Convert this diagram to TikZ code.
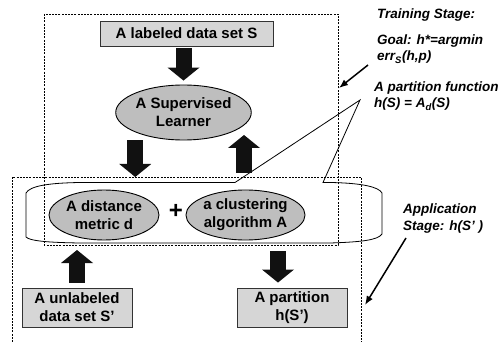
\documentclass[tikz,border=0pt]{standalone}
\usepackage{fontspec}
\setmainfont{Liberation Sans}
\usetikzlibrary{arrows.meta,shapes.geometric}
\definecolor{ellfill}{HTML}{BEBEBE}
\definecolor{boxfill}{HTML}{D6D6D6}
\definecolor{ink}{HTML}{111111}
\tikzset{
  boxnode/.style={draw=black!80, line width=0.9pt, fill=boxfill, inner sep=0pt, align=center,
    font=\bfseries\fontsize{15}{18}\selectfont},
  ellnode/.style={ellipse, draw=black, line width=0.9pt, fill=ellfill, inner sep=0pt, align=center,
    font=\bfseries\fontsize{15}{18}\selectfont},
  note/.style={inner sep=0pt, anchor=base west, font=\bfseries\itshape\fontsize{13.5}{16}\selectfont},
  barrow/.style={draw=ink, line width=16pt, -{Triangle[width=32pt,length=13pt,line width=0pt]}},
  thinarrow/.style={draw=black, line width=1.5pt, -{Latex[length=9pt,width=7pt]}},
  dashbox/.style={draw=black, line width=0.8pt, dash pattern=on 2pt off 1.2pt},
  callout/.style={draw=black, line width=0.8pt, line join=miter}
}
\begin{document}
\begin{tikzpicture}[x=1pt,y=-1pt]
\useasboundingbox (0,0) rectangle (501,342);
% named frame corners
\coordinate (trNW) at (44,14);
\coordinate (trSE) at (338,245);
\coordinate (appNW) at (12,177);
\coordinate (appNE) at (361,177);
\coordinate (ctip) at (360,100);
% callout shape
\draw[callout] (26,193) .. controls (30,186) and (48,183) .. (80,182.5) -- (235,182.5) -- (ctip) -- (323,182.5) -- (330,182.5)
  .. controls (362,183) and (379,187) .. (382,193) -- (382,234) .. controls (378,240) and (362,242) .. (330,243)
  -- (80,243) .. controls (48,242.5) and (30,241) .. (26,237) -- cycle;
% dashed stage frames
\draw[dashbox] (trNW) rectangle (trSE);
\draw[dashbox] (appNW |- 0,342) -- (appNW) -- (appNE) -- (appNE |- 0,342);
% nodes
\node[boxnode, minimum width=173pt, minimum height=25pt] (lab) at (186.5,33.5) {A labeled data set S};
\node[ellnode, minimum width=133pt, minimum height=55pt] (sup) at (183.5,112.5) {A Supervised\\Learner};
\node[ellnode, minimum width=110pt, minimum height=50pt] (dist) at (104,215) {A distance\\metric d};
\node[inner sep=0pt, font=\bfseries\fontsize{24}{24}\selectfont] (plus) at (176,211) {+};
\node[ellnode, minimum width=119pt, minimum height=50pt] (clus) at (245.5,215) {a clustering\\algorithm A};
\node[boxnode, minimum width=110pt, minimum height=39pt] (unl) at (77,307.5) {A unlabeled\\data set S’};
\node[boxnode, minimum width=110pt, minimum height=39pt] (part) at (292,307.5) {A partition\\h(S’)};
% notes
\node[note] (train) at (377,19) {Training Stage:};
\node[note] (goal) at (377,45) {Goal: h*=argmin};
\node[note] (err) at (377,61) {err\textsubscript{S}(h,p)};
\node[note] (pf) at (374,92) {A partition function};
\node[note] (pfh) at (374,108) {h(S) = A\textsubscript{d}(S)};
\node[note] (app) at (403,213) {Application};
\node[note] (appst) at (403,230) {Stage: h(S’ )};
% block arrows
\draw[barrow] ([yshift=-2pt]sup.north |- lab.south) -- ([yshift=4pt]sup.north);
\draw[barrow] (sup.south west |- sup.south) -- (sup.south west |- appNW);
\coordinate (upB) at (244,173);
\coordinate (upT) at (244,135);
\draw[barrow] (upB) -- (upT);
\draw[barrow] ([yshift=5pt]unl.north) -- ([yshift=-5pt]unl.north |- trSE);
\draw[barrow] ([xshift=-14pt,yshift=-6pt]part.north |- trSE) -- ([xshift=-14pt,yshift=5pt]part.north);
% thin arrows
\coordinate (ga) at (368,65);
\coordinate (gb) at (339,88);
\draw[thinarrow] (ga) -- (gb);
\coordinate (aa) at (406,238);
\coordinate (ab) at (365,305);
\draw[thinarrow] (aa) -- (ab);
\end{tikzpicture}
\end{document}
